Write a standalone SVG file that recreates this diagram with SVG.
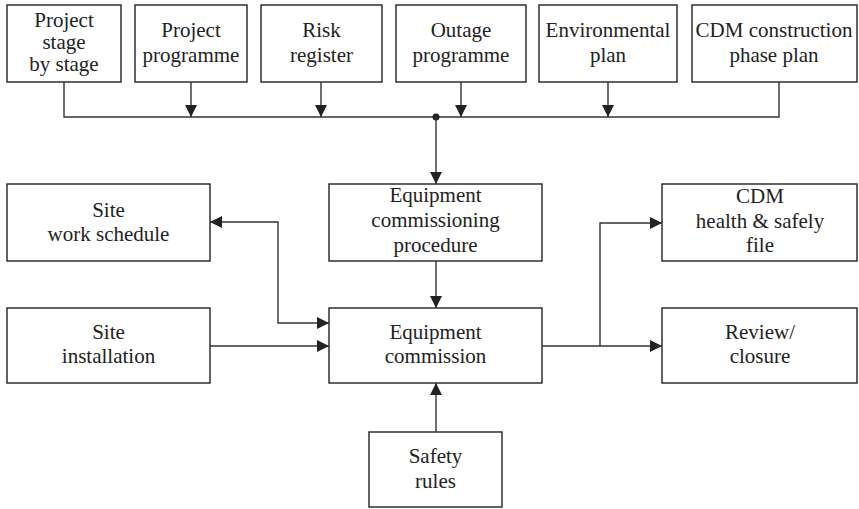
<svg xmlns="http://www.w3.org/2000/svg" width="859" height="509" viewBox="0 0 859 509" font-family="Liberation Serif, Tinos, serif">
  <style>
    .box { fill: #fff; stroke: #222; stroke-width: 1.4; }
    .wire { fill: none; stroke: #333; stroke-width: 1.4; }
    .lbl { font-family: 'Liberation Serif', Tinos, serif; font-size: 21px; fill: #222; text-anchor: middle; }
  </style>
  <defs>
    <marker id="arrow" markerUnits="userSpaceOnUse" markerWidth="12" markerHeight="12" refX="12" refY="6" orient="auto">
      <path d="M0,0 L12,6 L0,12 z" fill="#222"/>
    </marker>
    <marker id="arrowStart" markerUnits="userSpaceOnUse" markerWidth="12" markerHeight="12" refX="0" refY="6" orient="auto">
      <path d="M12,0 L0,6 L12,12 z" fill="#222"/>
    </marker>
  </defs>
  <rect x="0" y="0" width="859" height="509" fill="#fff"/>

  <!-- input documents -->
  <g id="stage-by-stage">
    <rect class="box" x="7" y="5" width="114" height="77"/>
    <text class="lbl" x="64" y="27">Project</text>
    <text class="lbl" x="64" y="49">stage</text>
    <text class="lbl" x="64" y="71">by stage</text>
  </g>
  <g id="project-programme">
    <rect class="box" x="135" y="5" width="112" height="77"/>
    <text class="lbl" x="191" y="36.5">Project</text>
    <text class="lbl" x="191" y="61.5">programme</text>
  </g>
  <g id="risk-register">
    <rect class="box" x="261" y="5" width="121" height="77"/>
    <text class="lbl" x="321.5" y="36.5">Risk</text>
    <text class="lbl" x="321.5" y="61.5">register</text>
  </g>
  <g id="outage-programme">
    <rect class="box" x="396" y="5" width="130" height="77"/>
    <text class="lbl" x="461" y="36.5">Outage</text>
    <text class="lbl" x="461" y="61.5">programme</text>
  </g>
  <g id="environmental-plan">
    <rect class="box" x="539" y="5" width="138" height="77"/>
    <text class="lbl" x="608" y="36.5">Environmental</text>
    <text class="lbl" x="608" y="61.5">plan</text>
  </g>
  <g id="cdm-construction-plan">
    <rect class="box" x="692" y="5" width="165" height="77"/>
    <text class="lbl" x="774" y="36.5">CDM construction</text>
    <text class="lbl" x="774" y="61.5">phase plan</text>
  </g>

  <!-- middle row -->
  <g id="site-work-schedule">
    <rect class="box" x="7" y="184" width="203" height="77"/>
    <text class="lbl" x="108.5" y="217">Site</text>
    <text class="lbl" x="108.5" y="241">work schedule</text>
  </g>
  <g id="commissioning-procedure">
    <rect class="box" x="329" y="184" width="213" height="77"/>
    <text class="lbl" x="435.5" y="202">Equipment</text>
    <text class="lbl" x="435.5" y="227">commissioning</text>
    <text class="lbl" x="435.5" y="252">procedure</text>
  </g>
  <g id="cdm-health-safety-file">
    <rect class="box" x="662" y="184" width="195" height="77"/>
    <text class="lbl" x="760" y="203">CDM</text>
    <text class="lbl" x="760" y="227.5">health &amp; safely</text>
    <text class="lbl" x="760" y="252">file</text>
  </g>

  <!-- lower row -->
  <g id="site-installation">
    <rect class="box" x="7" y="308" width="203" height="75"/>
    <text class="lbl" x="108.5" y="339">Site</text>
    <text class="lbl" x="108.5" y="363">installation</text>
  </g>
  <g id="equipment-commission">
    <rect class="box" x="329" y="308" width="213" height="75"/>
    <text class="lbl" x="435.5" y="339">Equipment</text>
    <text class="lbl" x="435.5" y="363">commission</text>
  </g>
  <g id="review-closure">
    <rect class="box" x="662" y="308" width="195" height="75"/>
    <text class="lbl" x="760" y="339">Review/</text>
    <text class="lbl" x="760" y="363">closure</text>
  </g>
  <g id="safety-rules">
    <rect class="box" x="369" y="432" width="133" height="75"/>
    <text class="lbl" x="435.5" y="463">Safety</text>
    <text class="lbl" x="435.5" y="488">rules</text>
  </g>

  <!-- connectors -->
  <g id="connectors">
    <path class="wire" d="M64,82 V117 H779 V82"/>
    <path class="wire" d="M191,82 V117" marker-end="url(#arrow)"/>
    <path class="wire" d="M321,82 V117" marker-end="url(#arrow)"/>
    <path class="wire" d="M461,82 V117" marker-end="url(#arrow)"/>
    <path class="wire" d="M608,82 V117" marker-end="url(#arrow)"/>
    <circle cx="436" cy="117" r="3.5" fill="#222"/>
    <path class="wire" d="M436,117 V184" marker-end="url(#arrow)"/>
    <path class="wire" d="M436,261 V308" marker-end="url(#arrow)"/>
    <path class="wire" d="M210,222 H278 V323 H329" marker-start="url(#arrowStart)" marker-end="url(#arrow)"/>
    <path class="wire" d="M210,346 H329" marker-end="url(#arrow)"/>
    <path class="wire" d="M542,346 H662" marker-end="url(#arrow)"/>
    <path class="wire" d="M600,346 V223 H662" marker-end="url(#arrow)"/>
    <path class="wire" d="M436,432 V383" marker-end="url(#arrow)"/>
  </g>
</svg>
